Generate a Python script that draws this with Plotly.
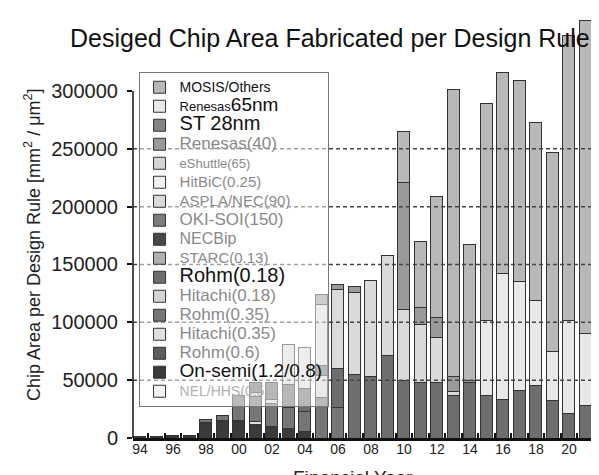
import plotly.graph_objects as go

years = [str(y) for y in range(1994, 2022)]
tick_text = [y[2:] if int(y) % 2 == 0 else "" for y in years]

# values in units of mm^2/um^2 (stack bottom -> top)
nel_hhs     = [0]*28
on_semi     = [1000, 1500, 2000, 2500, 12500, 14000, 14000, 12000, 10000, 8000, 6000, 0, 0, 0, 0, 0, 0, 0, 0, 0, 0, 0, 0, 0, 0, 0, 0, 0]
rohm_06     = [0]*28
hitachi_035 = [0, 0, 0, 0, 1200, 1200, 1500, 2000, 0, 0, 0, 0, 0, 0, 0, 0, 0, 0, 0, 0, 0, 0, 0, 0, 0, 0, 0, 0]
rohm_035    = [0, 0, 0, 0, 2000, 4000, 21000, 22000, 20000, 18000, 17000, 35000, 26000, 0, 0, 0, 0, 0, 0, 0, 0, 0, 0, 0, 0, 0, 0, 0]
hitachi_018 = [0, 0, 0, 0, 0, 0, 0, 3000, 3000, 0, 0, 19000, 0, 0, 0, 0, 0, 0, 0, 0, 0, 0, 0, 0, 0, 0, 0, 0]
rohm_018    = [0, 0, 0, 0, 0, 0, 0, 9000, 15000, 20000, 20000, 9000, 34000, 55000, 52800, 71000, 49300, 47600, 47600, 37000, 47600, 37000, 33000, 40700, 45000, 32000, 21600, 28500]
starc       = [0]*28
necbip      = [0]*28
oki_soi     = [0]*28
aspla_nec   = [0, 0, 0, 0, 0, 0, 0, 0, 0, 35000, 35000, 52000, 68000, 71000, 83000, 87000, 61400, 50100, 39400, 3600, 0, 0, 0, 0, 0, 0, 0, 0]
hitbic      = [0]*28
eshuttle    = [0]*28
renesas_40  = [0, 0, 0, 0, 0, 0, 0, 0, 0, 0, 0, 9000, 5000, 4600, 0, 0, 109900, 15300, 16800, 13000, 1700, 0, 0, 0, 0, 0, 0, 0]
st_28       = [0]*28
renesas_65  = [0, 0, 0, 0, 0, 0, 0, 0, 0, 0, 0, 0, 0, 0, 0, 0, 0, 0, 0, 0, 0, 65000, 109000, 94300, 73500, 43000, 80400, 61500]
mosis       = [0, 0, 0, 0, 0, 0, 0, 0, 0, 0, 0, 0, 0, 0, 0, 0, 44100, 57000, 105200, 247400, 117700, 187000, 173700, 173800, 154000, 171500, 245700, 270700]

SANS = "'Liberation Sans', Arial, sans-serif"

def lbl(text, size, color="#8a8a8a"):
    return f'<span style="font-size:{size}px;color:{color}">{text}</span>'

series = [
    (lbl("NEL/HHS(0.5)", 14, "#b0b0b0"), nel_hhs, "#f2f2f2"),
    (lbl("On-semi(1.2/0.8)", 19, "#111"), on_semi, "#3a3a3a"),
    (lbl("Rohm(0.6)", 17), rohm_06, "#5e5e5e"),
    (lbl("Hitachi(0.35)", 17), hitachi_035, "#e0e0e0"),
    (lbl("Rohm(0.35)", 17), rohm_035, "#767676"),
    (lbl("Hitachi(0.18)", 17), hitachi_018, "#d4d4d4"),
    (lbl("Rohm(0.18)", 20, "#111"), rohm_018, "#6e6e6e"),
    (lbl("STARC(0.13)", 15), starc, "#b0b0b0"),
    (lbl("NECBip", 16), necbip, "#484848"),
    (lbl("OKI-SOI(150)", 17), oki_soi, "#7c7c7c"),
    (lbl("ASPLA/NEC(90)", 15), aspla_nec, "#dadada"),
    (lbl("HitBiC(0.25)", 15), hitbic, "#f0f0f0"),
    (lbl("eShuttle(65)", 13), eshuttle, "#d6d6d6"),
    (lbl("Renesas(40)", 17), renesas_40, "#9a9a9a"),
    (lbl("ST 28nm", 20, "#111"), st_28, "#858585"),
    (lbl("Renesas", 13, "#111") + lbl("65nm", 19, "#111"), renesas_65, "#e8e8e8"),
    (lbl("MOSIS/Others", 14, "#111"), mosis, "#b8b8b8"),
]

fig = go.Figure()
for name, vals, col in series:
    fig.add_trace(go.Bar(
        x=years, y=vals, name=name,
        marker=dict(color=col, line=dict(color="#333333", width=1)),
    ))

grid_vals = [50000, 100000, 150000, 200000, 250000]
y_ticks = [0, 50000, 100000, 150000, 200000, 250000, 300000]

shapes = []
for g in grid_vals:
    shapes.append(dict(type="line", xref="paper", yref="y", x0=0, x1=1.03, y0=g, y1=g,
                       line=dict(color="#444", width=1.5, dash="4px,3px"), layer="above"))
shapes.append(dict(type="line", xref="paper", yref="y", x0=0, x1=0, y0=0, y1=y_ticks[-1],
                   line=dict(color="#111", width=1.5), layer="above"))

fig.update_layout(
    width=599, height=475,
    barmode="stack", bargap=0.27,
    paper_bgcolor="white", plot_bgcolor="white",
    margin=dict(l=125, r=12, t=10, b=45),
    title=dict(text="Desiged Chip Area Fabricated per Design Rule",
               font=dict(family=SANS, size=25, color="#111"),
               xref="container", x=62/599, xanchor="left",
               yref="container", y=1-30/475, yanchor="middle"),
    showlegend=True,
    legend=dict(x=0.012, y=0.872, xanchor="left", yanchor="top",
                bgcolor="rgba(255,255,255,0.5)", bordercolor="#777", borderwidth=1,
                font=dict(family=SANS, size=12, color="#888"),
                traceorder="reversed", tracegroupgap=0, itemwidth=30),
    shapes=shapes,
    xaxis=dict(type="category", range=[-0.42, 27.58],
               tickmode="array", tickvals=years, ticktext=tick_text, tickangle=0,
               tickson="boundaries", ticks="inside", ticklen=5, tickwidth=1.5, tickcolor="#111",
               showline=True, linecolor="#111", linewidth=2.5, showgrid=False,
               tickfont=dict(family=SANS, size=14, color="#222"), ticklabelstandoff=-4),
    yaxis=dict(range=[0, 363100], tickvals=y_ticks, ticktext=[str(v) for v in y_ticks],
               ticks="outside", ticklen=5, tickwidth=1.5, tickcolor="#111",
               showline=False, showgrid=False, zeroline=False, ticklabelstandoff=5,
               tickfont=dict(family=SANS, size=20, color="#222")),
    annotations=[
        dict(text="Chip Area per Design Rule [mm<sup>2</sup> / μm<sup>2</sup>]",
             xref="paper", yref="paper", x=(24-125)/462, y=(430-237)/420,
             xanchor="center", yanchor="middle", textangle=-90, showarrow=False,
             font=dict(family=SANS, size=18, color="#222")),
        dict(text="Financial Year", xref="paper", yref="paper",
             x=(345-125)/462, y=(430-469)/420, xanchor="center", yanchor="middle",
             showarrow=False, font=dict(family=SANS, size=19, color="#222")),
    ],
)

fig.write_html("out.html")
